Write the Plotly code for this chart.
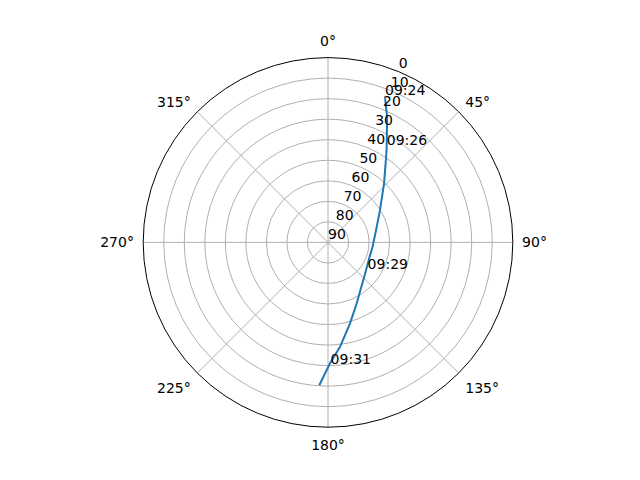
import plotly.graph_objects as go

# satellite pass, azimuth (deg) and elevation (deg)
track_az = [21.6, 25.3, 32.5, 43.7, 58.4, 76.0, 96.0, 107.0, 130.0, 154.9, 164.9, 173.5, 179.1, 183.5]
track_el = [14.5, 22.6, 36.9, 50.5, 60.3, 65.9, 68.2, 68.6, 66.4, 57.1, 49.0, 38.7, 31.0, 20.3]

label_times = ["09:24", "09:26", "09:29", "09:31"]
label_az = [21.6, 32.0, 126.8, 178.8]
label_el = [14.5, 36.0, 65.9, 29.3]

ang_ticks = [0, 45, 90, 135, 180, 225, 270, 315]
rad_ticks = [0, 10, 20, 30, 40, 50, 60, 70, 80, 90]
rad_label_az = 22.5  # matplotlib puts the radial labels along this bearing

fig = go.Figure()
fig.add_trace(go.Scatterpolar(
    r=track_el, theta=track_az, mode="lines",
    line=dict(color="#1f77b4", width=2), showlegend=False,
))
fig.add_trace(go.Scatterpolar(
    r=label_el, theta=label_az, mode="text", text=label_times,
    textposition="top right", textfont=dict(color="black", size=14),
    showlegend=False,
))
# radial tick labels sitting on the 22.5 deg line, like matplotlib
fig.add_trace(go.Scatterpolar(
    r=rad_ticks, theta=[rad_label_az] * len(rad_ticks), mode="text",
    text=[str(v) for v in rad_ticks], textposition="top right",
    textfont=dict(color="black", size=14), cliponaxis=False,
    showlegend=False, hoverinfo="skip",
))

# page body has an 8px margin, so pull the domain back by that much
dx = 8 / 640
dy = 8 / 480
fig.update_layout(
    width=640, height=480,
    paper_bgcolor="white",
    margin=dict(l=0, r=0, t=0, b=0),
    font=dict(family="DejaVu Sans", size=14, color="black"),
    polar=dict(
        domain=dict(x=[0.125 - dx, 0.9 - dx], y=[0.11 + dy, 0.88 + dy]),
        bgcolor="white",
        angularaxis=dict(
            rotation=90, direction="clockwise",
            tickvals=ang_ticks, ticktext=[f"{a}°" for a in ang_ticks],
            showline=True, linecolor="black", linewidth=1,
            gridcolor="#b0b0b0", gridwidth=1,
            ticks="outside", ticklen=6, tickcolor="rgba(0,0,0,0)",
        ),
        radialaxis=dict(
            range=[90, 0], tickvals=rad_ticks, showticklabels=False,
            angle=67.5, showline=False, ticks="",
            gridcolor="#b0b0b0", gridwidth=1,
        ),
    ),
)

fig.write_html("out.html")
